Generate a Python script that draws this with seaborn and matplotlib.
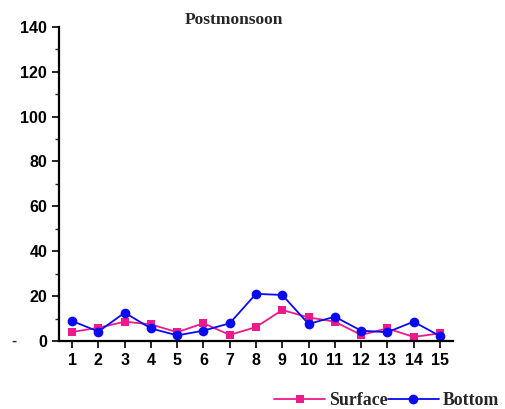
import matplotlib
matplotlib.use("Agg")
import matplotlib.pyplot as plt
import seaborn as sns
import pandas as pd
from matplotlib.ticker import MultipleLocator

stations = list(range(1, 16))
surface = [4.0, 5.9, 8.6, 7.4, 3.9, 7.9, 2.7, 6.2, 13.8, 10.5, 8.6, 2.7, 5.6, 1.8, 3.4]
bottom = [8.9, 4.2, 12.6, 5.6, 2.5, 4.6, 7.9, 21.0, 20.5, 7.6, 10.8, 4.6, 3.9, 8.6, 2.2]
title = "Postmonsoon"

sns.set_style("ticks")
fig = plt.figure(figsize=(5.06, 4.09), dpi=100)
ax = fig.add_axes([0.1166, 0.1663, 0.7787, 0.7684])

df = pd.DataFrame({"x": stations, "Surface": surface, "Bottom": bottom})
sns.lineplot(data=df, x="x", y="Surface", ax=ax, color="#EE1A8C", marker="s",
             markersize=6, markeredgewidth=0, linewidth=1.3, label="Surface")
sns.lineplot(data=df, x="x", y="Bottom", ax=ax, color="#0A0AF0", marker="o",
             markersize=7, markeredgewidth=0, linewidth=1.3, label="Bottom")

ax.set_xlim(0.5, 15.5)
ax.set_ylim(0, 140)
ax.set_xticks(stations)
ax.set_yticks(range(0, 141, 20))
ax.yaxis.set_minor_locator(MultipleLocator(10))
ax.set_xlabel("")
ax.set_ylabel("")
for s in ["top", "right"]:
    ax.spines[s].set_visible(False)
for s in ["left", "bottom"]:
    ax.spines[s].set_linewidth(1.6)
    ax.spines[s].set_color("black")
ax.tick_params(axis="both", which="major", direction="out", length=5, width=1.2,
               labelsize=11.5, colors="black")
ax.tick_params(axis="y", which="minor", direction="out", length=3, width=1.0)
for lab in ax.get_xticklabels() + ax.get_yticklabels():
    lab.set_fontweight("bold")
    lab.set_family("Liberation Sans")

fig.text(0.462, 0.95, title, ha="center", va="center", fontsize=12.5,
         fontweight="bold", family="Liberation Serif")
fig.text(0.028, 0.166, "-", ha="center", va="center", fontsize=11,
         fontweight="bold", family="Liberation Sans")

ax.get_legend().remove()
h, l = ax.get_legend_handles_labels()
fig.legend(h, l, loc="center right", bbox_to_anchor=(1.011, 0.02), ncol=2,
           frameon=False, handlelength=2.9, columnspacing=0.0, handletextpad=0.2,
           borderpad=0.2, prop={"family": "Liberation Serif", "weight": "bold", "size": 12.8})

fig.savefig("out.png", dpi=100)
